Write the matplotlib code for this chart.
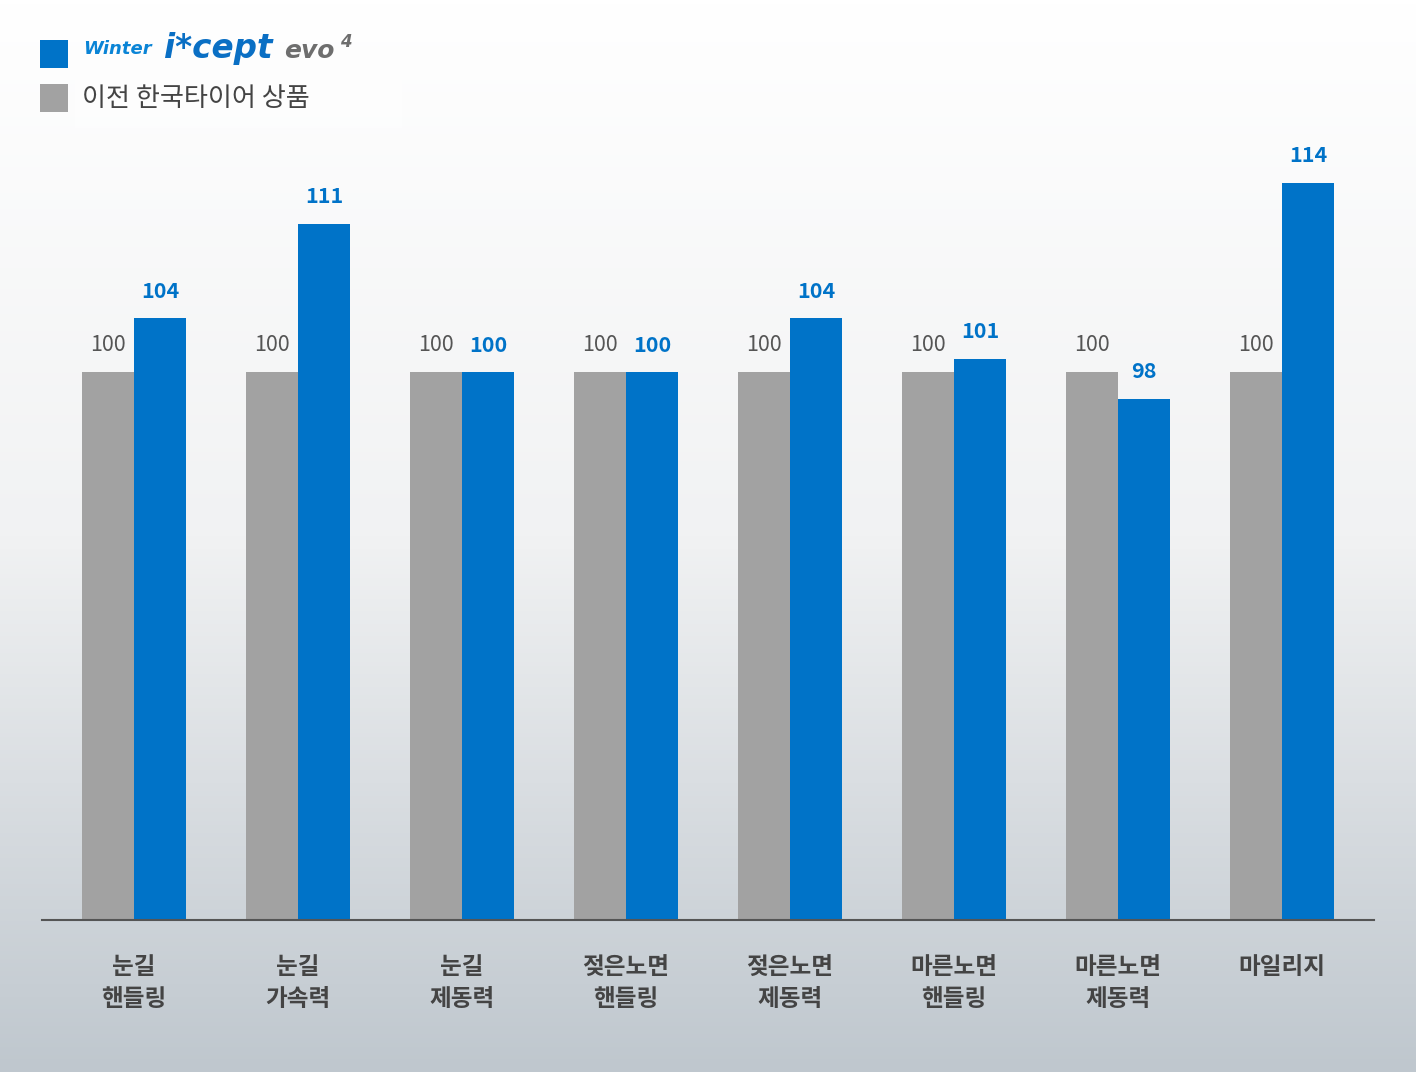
import numpy as np
import matplotlib
matplotlib.use('Agg')
import matplotlib.pyplot as plt
from matplotlib.colors import LinearSegmentedColormap
from matplotlib.patches import Rectangle

plt.rcParams['font.family'] = ['Noto Sans CJK KR', 'DejaVu Sans']

categories = ['눈길\n핸들링', '눈길\n가속력', '눈길\n제동력', '젖은노면\n핸들링',
              '젖은노면\n제동력', '마른노면\n핸들링', '마른노면\n제동력', '마일리지']
old_vals = [100, 100, 100, 100, 100, 100, 100, 100]
new_vals = [104, 111, 100, 100, 104, 101, 98, 114]
legend_old = '이전 한국타이어 상품'

BLUE = '#0073c8'
GRAY = '#a2a2a2'

W, H = 1416, 1072
fig = plt.figure(figsize=(W / 100, H / 100), dpi=100)

# background gradient
bg = fig.add_axes([0, 0, 1, 1], zorder=-10)
grad = np.linspace(0, 1, 256).reshape(-1, 1)
cmap = LinearSegmentedColormap.from_list('bg', ['#ffffff', '#f1f2f3', '#bfc7ce'])
bg.imshow(grad, aspect='auto', cmap=cmap, extent=[0, 1, 0, 1], origin='upper')
bg.axis('off')

# faint box behind legend
fig.patches.append(Rectangle((75 / W, 1 - 128 / H), 327 / W, 98 / H,
                             transform=fig.transFigure, facecolor='white',
                             alpha=0.35, edgecolor='none', zorder=-5))

k = 13.5  # px per unit
ax = fig.add_axes([42 / W, 1 - 920 / H, 1332 / W, 820 / H])
ax.patch.set_alpha(0)
x = np.arange(len(categories))
bw = 52 / 164
ax.bar(x - bw / 2, old_vals, bw, color=GRAY)
ax.bar(x + bw / 2, new_vals, bw, color=BLUE)
ax.set_xlim(-0.561, len(categories) - 1 + 0.561)
ybot = 100 - 548 / k
ax.set_ylim(ybot, ybot + 820 / k)

for i in range(len(categories)):
    ax.annotate(str(old_vals[i]), (x[i] - bw / 2, old_vals[i]), xytext=(0, 27),
                textcoords='offset pixels', ha='center', va='center',
                fontsize=15.5, color='#555555')
    ax.annotate(str(new_vals[i]), (x[i] + bw / 2, new_vals[i]), xytext=(0, 27),
                textcoords='offset pixels', ha='center', va='center',
                fontsize=15.5, color=BLUE, fontweight='bold')

for s in ['top', 'right', 'left']:
    ax.spines[s].set_visible(False)
ax.spines['bottom'].set_color('#555555')
ax.spines['bottom'].set_linewidth(1.5)
ax.set_yticks([])
ax.set_xticks(x)
ax.set_xticklabels(categories, fontsize=17, fontweight='bold', color='#444444',
                   linespacing=1.42, va='top')
ax.tick_params(axis='x', length=0, pad=25)

# legend
fig.patches.append(Rectangle((40 / W, 1 - 68 / H), 28 / W, 28 / H,
                             transform=fig.transFigure, facecolor=BLUE, edgecolor='none'))
fig.patches.append(Rectangle((40 / W, 1 - 112 / H), 28 / W, 28 / H,
                             transform=fig.transFigure, facecolor=GRAY, edgecolor='none'))
ly = 1 - 58 / H
fig.text(83 / W, 1 - 54 / H, 'Winter', fontsize=13, fontweight='bold', style='italic',
         color='#0a84d6', va='baseline', family=['DejaVu Sans'])
fig.text(164 / W, ly, 'i*cept', fontsize=23.5, fontweight='bold', style='italic',
         color='#0a6fc4', va='baseline', family=['DejaVu Sans'])
fig.text(284 / W, ly, 'evo', fontsize=18, fontweight='bold', style='italic',
         color='#6e6e6e', va='baseline', family=['DejaVu Sans'])
fig.text(340 / W, 1 - 47 / H, '4', fontsize=12, fontweight='bold', style='italic',
         color='#6e6e6e', va='baseline', family=['DejaVu Sans'])
fig.text(82 / W, 1 - 98 / H, legend_old, fontsize=18.8, color='#444444', va='center')

fig.savefig('out.png', dpi=100)
